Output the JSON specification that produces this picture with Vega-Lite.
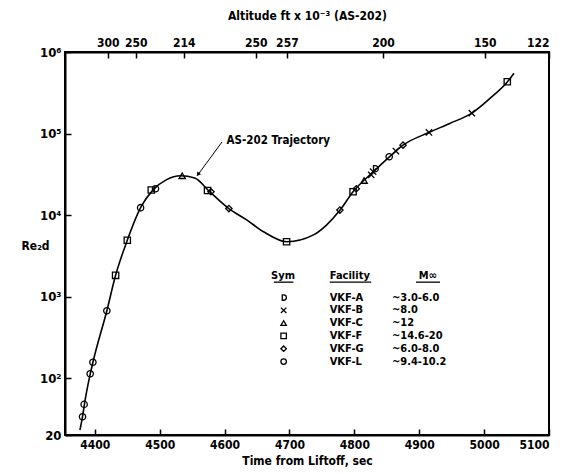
{
  "$schema": "https://vega.github.io/schema/vega-lite/v6.json",
  "width": 484,
  "height": 383,
  "autosize": "none",
  "padding": {"left": 65, "top": 52, "right": 13, "bottom": 39},
  "background": "white",
  "config": {
    "font": "DejaVu Sans Condensed, Liberation Sans, sans-serif",
    "view": {"stroke": "black", "strokeWidth": 2},
    "axis": {
      "domainColor": "black", "domainWidth": 2, "tickColor": "black", "tickWidth": 1.5,
      "tickSize": -6, "labelPadding": 10, "grid": false,
      "labelFont": "DejaVu Sans Condensed, Liberation Sans, sans-serif", "labelFontWeight": "bold", "labelFontSize": 12, "labelColor": "black",
      "titleFont": "DejaVu Sans Condensed, Liberation Sans, sans-serif", "titleFontWeight": "bold", "titleFontSize": 12, "titleColor": "black"
    },
    "text": {"font": "DejaVu Sans Condensed, Liberation Sans, sans-serif", "fontWeight": "bold", "fontSize": 11, "color": "black"}
  },
  "datasets": {
    "curve": [
      {"t": 4377, "v": 23}, {"t": 4381, "v": 33.5}, {"t": 4384, "v": 48}, {"t": 4393, "v": 113},
      {"t": 4397, "v": 156}, {"t": 4418.5, "v": 670}, {"t": 4432, "v": 1820}, {"t": 4450, "v": 4900},
      {"t": 4470.5, "v": 12300}, {"t": 4490, "v": 20500}, {"t": 4510, "v": 27000}, {"t": 4532, "v": 30300},
      {"t": 4554, "v": 28500}, {"t": 4576, "v": 19700}, {"t": 4606.6, "v": 12000}, {"t": 4634, "v": 8700},
      {"t": 4660, "v": 6240}, {"t": 4696, "v": 4700}, {"t": 4737, "v": 5700}, {"t": 4757, "v": 7530},
      {"t": 4778, "v": 11500}, {"t": 4798, "v": 19300}, {"t": 4829, "v": 33800}, {"t": 4854, "v": 51800},
      {"t": 4875, "v": 72000}, {"t": 4915, "v": 103000}, {"t": 4947, "v": 133000}, {"t": 4981, "v": 178000},
      {"t": 5009, "v": 270000}, {"t": 5036, "v": 431000}, {"t": 5046, "v": 550000}
    ],
    "points": [
      {"t": 4381, "v": 33.5, "f": "VKF-L"}, {"t": 4383.5, "v": 47.5, "f": "VKF-L"},
      {"t": 4392.8, "v": 113, "f": "VKF-L"}, {"t": 4397, "v": 156, "f": "VKF-L"},
      {"t": 4418.5, "v": 670, "f": "VKF-L"}, {"t": 4432, "v": 1820, "f": "VKF-F"},
      {"t": 4450, "v": 4900, "f": "VKF-F"}, {"t": 4470.5, "v": 12300, "f": "VKF-L"},
      {"t": 4487, "v": 20300, "f": "VKF-F"}, {"t": 4493.5, "v": 21000, "f": "VKF-L"},
      {"t": 4534.6, "v": 30300, "f": "VKF-C"}, {"t": 4573.7, "v": 20000, "f": "VKF-F"},
      {"t": 4579, "v": 19300, "f": "VKF-G"}, {"t": 4606.6, "v": 12000, "f": "VKF-G"},
      {"t": 4695.5, "v": 4700, "f": "VKF-F"}, {"t": 4777.7, "v": 11500, "f": "VKF-G"},
      {"t": 4798, "v": 19300, "f": "VKF-F"}, {"t": 4803, "v": 21000, "f": "VKF-G"},
      {"t": 4815, "v": 26500, "f": "VKF-C"}, {"t": 4826, "v": 31000, "f": "VKF-B"},
      {"t": 4829, "v": 34000, "f": "VKF-B"}, {"t": 4832, "v": 37000, "f": "VKF-A"},
      {"t": 4853.7, "v": 51800, "f": "VKF-L"}, {"t": 4864, "v": 61000, "f": "VKF-B"},
      {"t": 4875, "v": 72000, "f": "VKF-G"}, {"t": 4915, "v": 103000, "f": "VKF-B"},
      {"t": 4981, "v": 178000, "f": "VKF-B"}, {"t": 5035.7, "v": 431000, "f": "VKF-F"}
    ],
    "legendSym": [
      {"t": 4691, "v": 972, "f": "VKF-A"},
      {"t": 4691, "v": 677, "f": "VKF-B"},
      {"t": 4691, "v": 472, "f": "VKF-C"},
      {"t": 4691, "v": 329, "f": "VKF-F"},
      {"t": 4691, "v": 229, "f": "VKF-G"},
      {"t": 4691, "v": 159, "f": "VKF-L"}
    ],
    "legendText": [
      {"t": 4762, "v": 972, "label": "VKF-A"},
      {"t": 4762, "v": 677, "label": "VKF-B"},
      {"t": 4762, "v": 472, "label": "VKF-C"},
      {"t": 4762, "v": 329, "label": "VKF-F"},
      {"t": 4762, "v": 229, "label": "VKF-G"},
      {"t": 4762, "v": 159, "label": "VKF-L"},
      {"t": 4858, "v": 972, "label": "~3.0-6.0"},
      {"t": 4858, "v": 677, "label": "~8.0"},
      {"t": 4858, "v": 472, "label": "~12"},
      {"t": 4858, "v": 329, "label": "~14.6-20"},
      {"t": 4858, "v": 229, "label": "~6.0-8.0"},
      {"t": 4858, "v": 159, "label": "~9.4-10.2"}
    ]
  },
  "resolve": {"axis": {"x": "independent"}},
  "encoding": {
    "x": {"field": "t", "type": "quantitative",
      "scale": {"domain": [4354, 5100], "nice": false, "zero": false},
      "axis": null},
    "y": {"field": "v", "type": "quantitative",
      "scale": {"type": "log", "domain": [20, 1000000], "nice": false},
      "axis": {"values": [20, 100, 1000, 10000, 100000, 1000000],
        "labelExpr": "datum.value == 20 ? '20' : datum.value == 100 ? '10²' : datum.value == 1000 ? '10³' : datum.value == 10000 ? '10⁴' : datum.value == 100000 ? '10⁵' : '10⁶'",
        "labelFontSize": 13,
        "title": "Re₂d", "titleAngle": 0, "titleX": -44, "titleY": 193, "titleAlign": "left", "titleBaseline": "middle"}}
  },
  "layer": [
    {
      "data": {"name": "curve"},
      "mark": {"type": "line", "color": "black", "strokeWidth": 1.6, "interpolate": "monotone"},
      "encoding": {
        "x": {"field": "t", "type": "quantitative",
          "axis": {"orient": "bottom", "values": [4400, 4500, 4600, 4700, 4800, 4900, 5000, 5100],
            "format": "d", "title": "Time from Liftoff, sec", "titlePadding": 5}}
      }
    },
    {
      "data": {"name": "points"},
      "mark": {"type": "point", "filled": false, "stroke": "black", "strokeWidth": 1.3, "size": 40, "opacity": 1},
      "encoding": {
        "x": {"field": "t", "type": "quantitative",
          "axis": {"orient": "top", "values": [4420, 4463, 4537, 4648, 4696, 4844, 5001, 5100],
            "labelExpr": "datum.value == 4420 ? '300' : datum.value == 4463 ? '250' : datum.value == 4537 ? '214' : datum.value == 4648 ? '250' : datum.value == 4696 ? '257' : datum.value == 4844 ? '200' : datum.value == 5001 ? '150' : '122'",
            "labelPadding": 9,
            "title": "Altitude ft x 10⁻³ (AS-202)", "titlePadding": 14}},
        "shape": {"field": "f", "type": "nominal", "legend": null,
          "scale": {"domain": ["VKF-A", "VKF-B", "VKF-C", "VKF-F", "VKF-G", "VKF-L"],
            "range": ["M-0.5,-1L0,-1A1,1,0,0,1,0,1L-0.5,1Z", "M-1,-1L1,1M-1,1L1,-1", "triangle-up", "square", "diamond", "circle"]}}
      }
    },
    {
      "data": {"values": [{"t": 4596, "v": 78700, "t2": 4558, "v2": 30500}]},
      "mark": {"type": "rule", "color": "black", "strokeWidth": 1},
      "encoding": {
        "x2": {"field": "t2"}, "y2": {"field": "v2"}
      }
    },
    {
      "data": {"values": [{"t": 4559, "v": 31500}]},
      "mark": {"type": "point", "shape": "triangle-up", "filled": true, "color": "black", "size": 22, "angle": 216, "opacity": 1}
    },
    {
      "data": {"values": [{"t": 4600, "v": 80000, "label": "AS-202 Trajectory"}]},
      "mark": {"type": "text", "align": "left", "baseline": "middle", "dx": 2, "fontSize": 11.5},
      "encoding": {
        "text": {"field": "label"}
      }
    },
    {
      "data": {"values": [
        {"t": 4690, "v": 1784, "label": "Sym"},
        {"t": 4793, "v": 1784, "label": "Facility"},
        {"t": 4913, "v": 1784, "label": "M∞"}
      ]},
      "mark": {"type": "text", "align": "center", "baseline": "middle"},
      "encoding": {
        "text": {"field": "label"}
      }
    },
    {
      "data": {"values": [
        {"t": 4676, "t2": 4706, "v": 1500},
        {"t": 4762, "t2": 4826, "v": 1500},
        {"t": 4895, "t2": 4932, "v": 1500}
      ]},
      "mark": {"type": "rule", "color": "black", "strokeWidth": 1.3},
      "encoding": {
        "x2": {"field": "t2"}
      }
    },
    {
      "data": {"name": "legendSym"},
      "mark": {"type": "point", "filled": false, "stroke": "black", "strokeWidth": 1.3, "size": 30, "opacity": 1},
      "encoding": {
        "shape": {"field": "f", "type": "nominal", "legend": null}
      }
    },
    {
      "data": {"name": "legendText"},
      "mark": {"type": "text", "align": "left", "baseline": "middle"},
      "encoding": {
        "text": {"field": "label"}
      }
    }
  ]
}
